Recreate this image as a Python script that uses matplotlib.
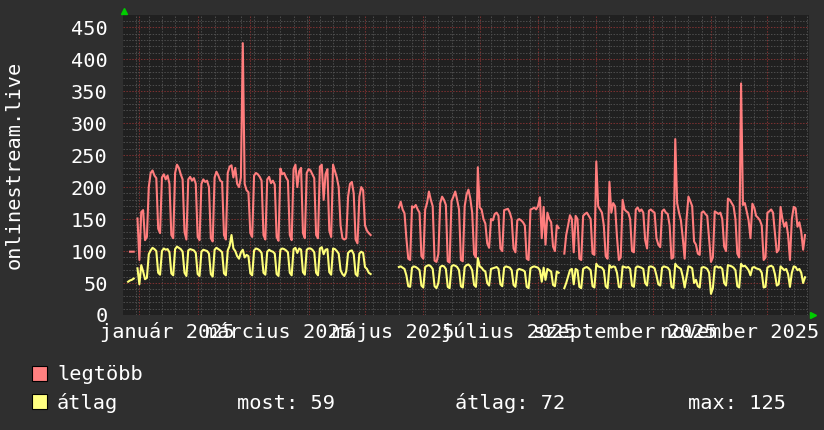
import numpy as np
import pandas as pd
import matplotlib
matplotlib.use("Agg")
import matplotlib.pyplot as plt
import matplotlib.dates as mdates
import matplotlib.transforms as mtransforms
from matplotlib.patches import Rectangle
from matplotlib.lines import Line2D
from matplotlib.ticker import MultipleLocator

nan = np.nan

# one row per week, Monday..Sunday, first row = week of 2024-12-23
legtobb = [
    nan, nan, nan, nan, 99, 99, 99,
    nan, 151, 86, 161, 164, 117, 122,
    200, 222, 226, 218, 214, 135, 128,
    215, 220, 212, 218, 205, 125, 120,
    222, 235, 230, 220, 212, 130, 118,
    212, 216, 210, 214, 205, 122, 117,
    205, 212, 208, 210, 200, 120, 115,
    215, 224, 218, 210, 208, 125, 118,
    222, 232, 234, 215, 230, 205, 200,
    215, 425, 205, 195, 192, 128, 122,
    218, 222, 220, 216, 210, 125, 118,
    212, 216, 206, 210, 204, 122, 116,
    229, 220, 222, 215, 210, 125, 117,
    228, 235, 200, 225, 230, 128, 120,
    222, 228, 226, 220, 214, 125, 120,
    232, 235, 180, 220, 228, 132, 122,
    235, 225, 215, 200, 140, 120, 118,
    120, 185, 205, 208, 190, 118, 112,
    185, 200, 195, 140, 132, 128, 125,
    nan, nan, nan, nan, nan, nan, nan,
    nan, nan, nan, nan, nan, nan, nan,
    168, 177, 165, 159, 120, 88, 86,
    170, 168, 172, 165, 160, 92, 88,
    165, 175, 193, 180, 170, 85, 83,
    95, 175, 185, 180, 172, 84, 82,
    178, 185, 193, 180, 165, 86, 84,
    170, 188, 196, 182, 160, 95, 90,
    231, 168, 165, 150, 143, 112, 105,
    150, 148, 158, 160, 155, 104, 100,
    164, 165, 166, 160, 150, 104, 98,
    148, 150, 148, 145, 140, 88, 86,
    165, 166, 168, 165, 170, 184, 120,
    169, 110, 160, 150, 145, 107, 100,
    140, 136, nan, nan, 96, 125, 140,
    156, 150, 98, 155, 150, 88, 86,
    155, 158, 160, 155, 150, 96, 94,
    240, 170, 165, 160, 140, 92, 88,
    208, 160, 175, 170, 122, 86, 90,
    180, 165, 162, 160, 150, 100, 98,
    165, 168, 162, 165, 160, 117, 104,
    163, 165, 162, 160, 120, 110, 106,
    162, 165, 160, 158, 140, 88, 90,
    275, 175, 160, 148, 120, 88, 150,
    185, 178, 170, 115, 110, 96, 94,
    160, 162, 158, 155, 120, 83, 90,
    162, 160, 158, 160, 150, 107, 100,
    182, 180, 175, 170, 150, 96, 90,
    362, 172, 175, 162, 148, 120, 174,
    168, 155, 152, 148, 140, 86, 90,
    160, 162, 165, 160, 128, 98, 102,
    169, 150, 138, 145, 125, 86, 150,
    169, 167, 138, 145, 130, 102, 125,
]

atlag = [
    nan, nan, nan, 52, 54, 55, 57,
    nan, 73, 48, 78, 68, 56, 58,
    95, 101, 105, 103, 100, 66, 63,
    100, 104, 102, 103, 98, 65, 62,
    103, 107, 105, 103, 99, 66, 61,
    101, 103, 102, 101, 97, 64, 61,
    99, 102, 101, 100, 96, 64, 60,
    102, 105, 103, 101, 98, 65, 62,
    101, 108, 125, 104, 100, 92, 88,
    98, 102, 90, 94, 92, 65, 62,
    101, 104, 103, 101, 97, 66, 63,
    99, 102, 100, 99, 96, 64, 61,
    102, 104, 103, 101, 98, 66, 62,
    103, 105, 97, 104, 102, 67, 63,
    102, 104, 104, 102, 98, 66, 62,
    104, 106, 95, 102, 103, 67, 63,
    104, 103, 100, 96, 70, 64, 61,
    68, 97, 100, 101, 95, 64, 61,
    96, 99, 97, 75, 72, 66, 64,
    nan, nan, nan, nan, nan, nan, nan,
    nan, nan, nan, nan, nan, nan, nan,
    75, 76, 74, 72, 62, 45, 44,
    74, 76, 75, 73, 70, 46, 43,
    75, 77, 78, 76, 72, 45, 42,
    50, 75, 77, 76, 72, 44, 42,
    76, 78, 77, 75, 70, 45, 43,
    75, 78, 79, 76, 70, 47, 44,
    89, 76, 74, 70, 68, 50, 46,
    72, 73, 74, 75, 72, 48, 45,
    74, 76, 75, 74, 70, 47, 44,
    70, 72, 71, 70, 68, 44, 42,
    73, 75, 76, 75, 74, 70, 52,
    74, 55, 72, 70, 68, 47, 45,
    68, 66, nan, nan, 42, 50, 60,
    70, 72, 48, 72, 70, 44, 42,
    72, 74, 75, 73, 70, 45, 43,
    80, 76, 75, 74, 70, 45, 42,
    78, 74, 76, 75, 66, 44, 43,
    76, 75, 74, 75, 72, 46, 44,
    74, 76, 75, 74, 72, 50, 46,
    75, 76, 75, 73, 62, 48, 46,
    74, 76, 75, 74, 70, 44, 42,
    80, 76, 74, 72, 60, 43, 60,
    76, 75, 73, 50, 55, 45, 43,
    74, 75, 74, 72, 66, 33, 42,
    75, 76, 74, 75, 72, 50, 46,
    78, 77, 76, 74, 70, 45, 43,
    80, 76, 77, 74, 70, 62, 74,
    75, 73, 72, 71, 66, 43, 44,
    74, 76, 77, 75, 64, 46, 48,
    76, 73, 70, 72, 64, 44, 66,
    76, 75, 70, 72, 66, 50, 59,
]

honapok = ["január", "március", "május", "július", "szeptember", "november"]
honap_szam = [1, 3, 5, 7, 9, 11]
y_ticks = [0, 50, 100, 150, 200, 250, 300, 350, 400, 450]

napok = pd.date_range("2024-12-23", periods=len(legtobb), freq="D")

W, H = 824, 430
BG = "#2f2f2f"
PLOT_BG = "#202020"
RED = "#ff7d7d"
YEL = "#ffff7a"
MONO = "DejaVu Sans Mono"
FS = 14.6

fig = plt.figure(figsize=(W / 100, H / 100), dpi=100, facecolor=BG)
ax = fig.add_axes([123 / W, (H - 315) / H, 686 / W, 300 / H], facecolor=PLOT_BG)

ax.plot(napok, legtobb, color=RED, lw=1.5, zorder=3)
ax.plot(napok, atlag, color=YEL, lw=1.5, zorder=4)

ax.set_xlim(pd.Timestamp("2024-12-23 07:00"), pd.Timestamp("2025-12-23 03:00"))
ax.set_ylim(0, 469)

# grid, rrdtool style
ax.xaxis.set_major_locator(mdates.MonthLocator())
ax.xaxis.set_minor_locator(mdates.WeekdayLocator(byweekday=mdates.MO))
ax.yaxis.set_major_locator(MultipleLocator(50))
ax.yaxis.set_minor_locator(MultipleLocator(10))
ax.grid(which="minor", color="#4c4c4c", ls=(0, (1.4, 1.4)), lw=0.75, zorder=1)
ax.grid(which="major", color="#7c3030", ls=(0, (1.4, 1.4)), lw=0.75, zorder=2)
ax.set_axisbelow(True)

ax.tick_params(which="both", length=0)
ax.tick_params(axis="x", labelbottom=False)
ax.set_yticks(y_ticks)
ax.set_yticklabels([str(v) for v in y_ticks], color="white", fontsize=FS, family=MONO)
ax.tick_params(axis="y", pad=11)
for s in ax.spines.values():
    s.set_visible(False)

trans = mtransforms.blended_transform_factory(ax.transData, ax.transAxes)
for nev, m in zip(honapok, honap_szam):
    ax.text(pd.Timestamp(2025, m, 16), -23 / 300, f"{nev} 2025", transform=trans,
            ha="center", va="baseline", color="white", fontsize=FS, family=MONO,
            clip_on=False)

fig.text(14 / W, 1 - 165 / H, "onlinestream.live", rotation=90, ha="center", va="center",
         color="white", fontsize=FS, family=MONO)

# little green arrows at the axis ends
fig.add_artist(Line2D([124 / W], [1 - 11 / H], marker="^", color="#00cc00", ms=4.5,
                      transform=fig.transFigure))
fig.add_artist(Line2D([813 / W], [1 - 315 / H], marker=">", color="#00cc00", ms=4.5,
                      transform=fig.transFigure))

# legend
fig.add_artist(Rectangle((32 / W, 1 - 381 / H), 15 / W, 15 / H, transform=fig.transFigure,
                         facecolor="#ff8080", edgecolor="black", lw=0.8))
fig.add_artist(Rectangle((32 / W, 1 - 409 / H), 15 / W, 15 / H, transform=fig.transFigure,
                         facecolor="#ffff80", edgecolor="black", lw=0.8))
leg = [(57, 380, "legtöbb"), (57, 409, "átlag"), (237, 409, "most: 59"),
       (455, 409, "átlag: 72"), (688, 409, "max: 125")]
for x, y, t in leg:
    fig.text(x / W, 1 - y / H, t, ha="left", va="baseline", color="white",
             fontsize=FS, family=MONO)

fig.savefig("out.png", dpi=100, facecolor=BG)
